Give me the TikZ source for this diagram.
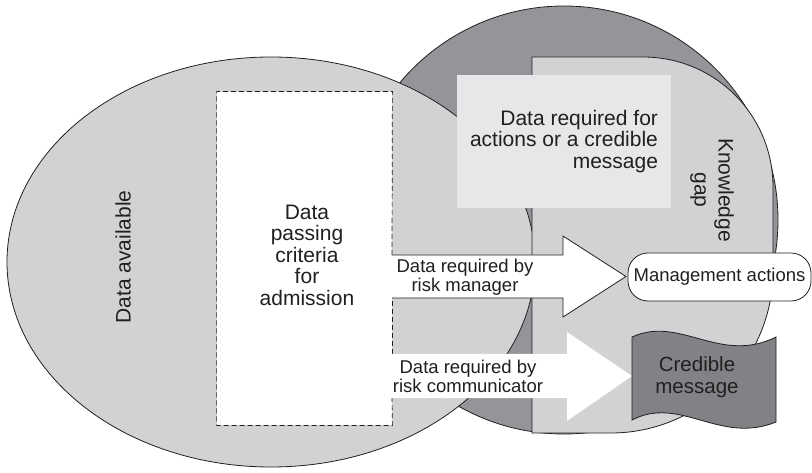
\documentclass[tikz,border=0pt]{standalone}
\usepackage{fontspec}
\setmainfont{Liberation Sans}
\definecolor{lightgr}{RGB}{209,210,212}
\definecolor{darkgr}{RGB}{147,149,152}
\definecolor{boxgr}{RGB}{230,231,232}
\definecolor{msggr}{RGB}{128,130,133}
\definecolor{ink}{RGB}{35,31,32}

\begin{document}
\begin{tikzpicture}[x=1pt, y=-1pt, line width=0.8pt, draw=ink,
        big/.style={font=\fontsize{21}{21.5}\selectfont, text=ink, align=center, inner sep=0pt},
        small/.style={font=\fontsize{18.5}{19}\selectfont, text=ink, align=center, inner sep=0pt}]
    \useasboundingbox (0,0) rectangle (812,473);
    % the three regions
    \draw[fill=darkgr] (564,220) circle (214);
    \draw[fill=lightgr] (271,262) ellipse [x radius=264, y radius=205];
    \draw[fill=lightgr] (532,57) -- (643,57) .. controls (715,57) and (773,115) .. (773,187)
        -- (773,271) .. controls (773,360) and (700,433) .. (611,433) -- (532,433) -- cycle;
    \node[big, fill=boxgr, minimum width=214, minimum height=133, align=right] (req) at (564,141.5)
        {Data required for\\actions or a credible\\message};
    % admission box
    \node[fill=white, minimum width=175, minimum height=333, inner sep=0pt] (admit) at (304.5,258.5) {};
    \draw[dashed, dash pattern=on 5pt off 3pt, line width=0.7pt] (392,255) -- (admit.north east)
        -- (admit.north west) -- (admit.south west) -- (admit.south east) -- (392,398);
    \draw[dashed, dash pattern=on 5pt off 3pt, line width=0.7pt] (392,354) -- (392,298);
    \node[big] (admittxt) at (307,255) {Data\\passing\\criteria\\for\\admission};
    % block arrows
    \draw[fill=white] (392,255) -- (563,255) -- (563,236) -- (626,276.5) -- (563,317) -- (563,298) -- (392,298);
    \fill[white] (392,354) -- (567,354) -- (567,332) -- (632,376) -- (567,421) -- (567,398) -- (392,398) -- cycle;
    \node[small] (mgrtxt) at (465,277) {Data required by\\risk manager};
    \node[small] (comtxt) at (468,376) {Data required by\\risk communicator};
    % outcomes
    \node[small, draw, fill=white, rounded corners=20, minimum width=183, minimum height=48] (mgmt) at (719.5,277)
        {Management actions};
    \draw[fill=msggr] (632,337) .. controls (680,315) and (720,365) .. (776,337)
        -- (776,422) .. controls (720,445) and (680,395) .. (632,420) -- cycle;
    \node[big, font=\fontsize{20.5}{22}\selectfont] (msg) at (697,377) {Credible\\message};
    \node[big, rotate=-90, font=\fontsize{21}{24}\selectfont] (gap) at (712,190) {Knowledge\\gap};
    \node[big, rotate=90] (avail) at (123,257) {Data available};
\end{tikzpicture}
\end{document}
